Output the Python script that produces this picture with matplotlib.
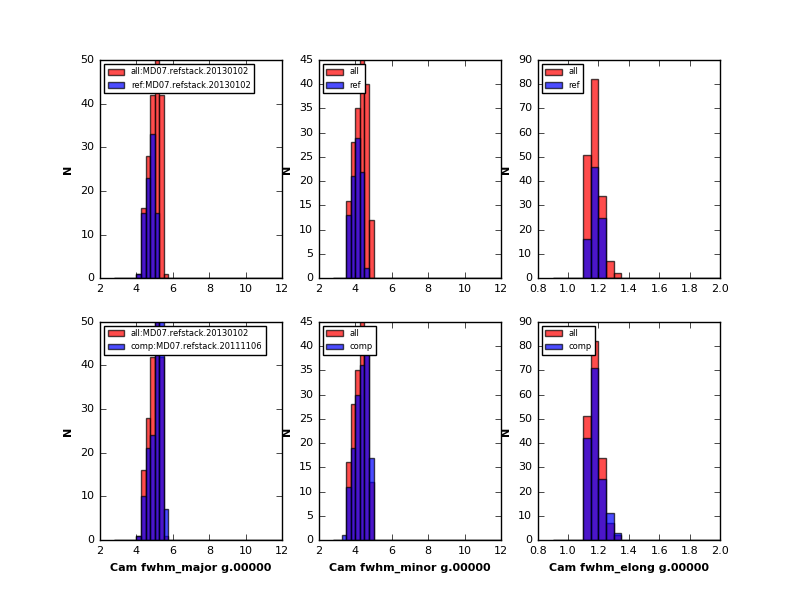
import numpy as np
import matplotlib
matplotlib.use('Agg')
import matplotlib.pyplot as plt
plt.style.use('classic')

edges_a = np.arange(2.75, 12.001, 0.25)
edges_e = np.arange(0.9, 2.001, 0.05)

major_all = {4.0: 1, 4.25: 16, 4.5: 28, 4.75: 42, 5.0: 52, 5.25: 42, 5.5: 1}
major_ref = {4.0: 1, 4.25: 15, 4.5: 23, 4.75: 33, 5.0: 15}
major_comp = {4.0: 1, 4.25: 10, 4.5: 21, 4.75: 24, 5.0: 52, 5.25: 52, 5.5: 7}
minor_all = {3.5: 16, 3.75: 28, 4.0: 35, 4.25: 47, 4.5: 40, 4.75: 12}
minor_ref = {3.5: 13, 3.75: 21, 4.0: 29, 4.25: 22, 4.5: 2}
minor_comp = {3.25: 1, 3.5: 11, 3.75: 19, 4.0: 30, 4.25: 36, 4.5: 42, 4.75: 17}
elong_all = {1.1: 51, 1.15: 82, 1.2: 34, 1.25: 7, 1.3: 2}
elong_ref = {1.1: 16, 1.15: 46, 1.2: 25}
elong_comp = {1.1: 42, 1.15: 71, 1.2: 25, 1.25: 11, 1.3: 3}

def counts(edges, d):
    w = np.zeros(len(edges) - 1)
    for k, v in d.items():
        i = int(round((k - edges[0]) / (edges[1] - edges[0])))
        w[i] = v
    return w

fig, axes = plt.subplots(2, 3, figsize=(8, 6), dpi=100)
fig.patch.set_facecolor('white')
panels = [
    (0, 0, edges_a, major_all, major_ref, 'all:MD07.refstack.20130102', 'ref:MD07.refstack.20130102', (2, 12), 50, None),
    (0, 1, edges_a, minor_all, minor_ref, 'all', 'ref', (2, 12), 45, None),
    (0, 2, edges_e, elong_all, elong_ref, 'all', 'ref', (0.8, 2.0), 90, None),
    (1, 0, edges_a, major_all, major_comp, 'all:MD07.refstack.20130102', 'comp:MD07.refstack.20111106', (2, 12), 50, 'Cam fwhm_major g.00000'),
    (1, 1, edges_a, minor_all, minor_comp, 'all', 'comp', (2, 12), 45, 'Cam fwhm_minor g.00000'),
    (1, 2, edges_e, elong_all, elong_comp, 'all', 'comp', (0.8, 2.0), 90, 'Cam fwhm_elong g.00000'),
]
for r, c, edges, da, db, la, lb, xl, ymax, xlab in panels:
    ax = axes[r, c]
    centers = 0.5 * (edges[:-1] + edges[1:])
    ax.hist(centers, bins=edges, weights=counts(edges, da), color='red', alpha=0.7, label=la)
    ax.hist(centers, bins=edges, weights=counts(edges, db), color='blue', alpha=0.7, label=lb)
    ax.set_xlim(*xl)
    ax.set_ylim(0, ymax)
    ax.set_ylabel('N', fontweight='bold', fontsize=8)
    if xlab:
        ax.set_xlabel(xlab, fontweight='bold', fontsize=8)
    ax.tick_params(labelsize=8)
    ax.legend(loc='upper left', fontsize=6)
fig.subplots_adjust(left=0.125, right=0.9, bottom=0.1, top=0.9, wspace=0.2, hspace=0.2)
fig.savefig('out.png', dpi=100, facecolor='white')
